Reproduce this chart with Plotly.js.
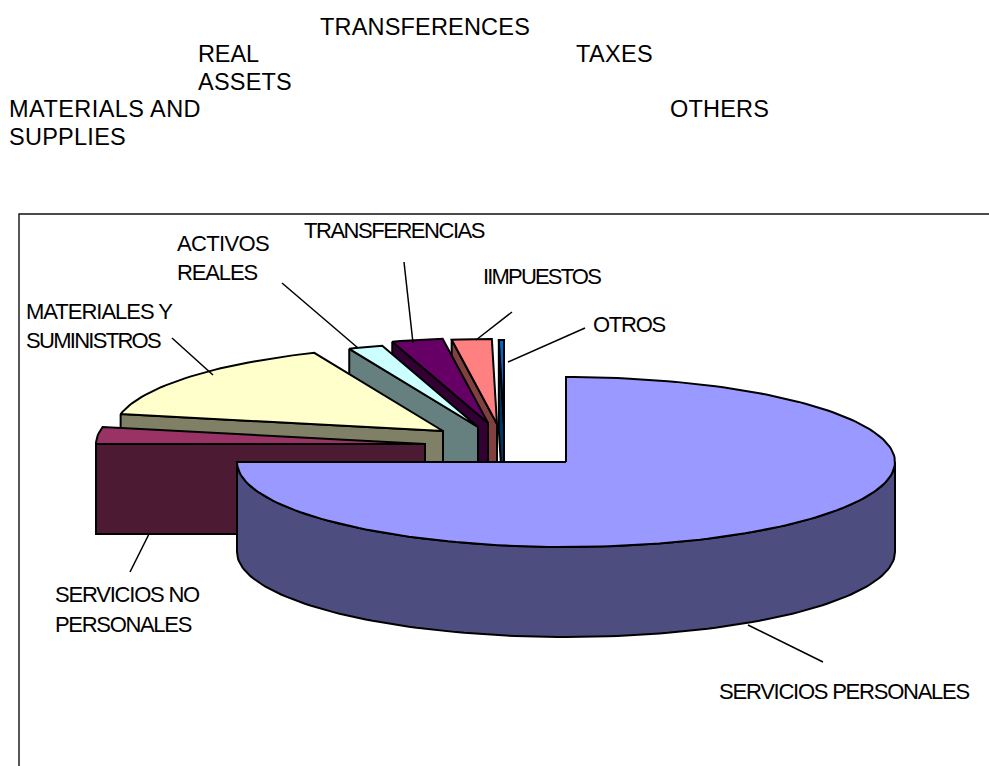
<!DOCTYPE html>
<html>
<head>
<meta charset="utf-8">
<script src="https://cdn.plot.ly/plotly-3.0.1.min.js"></script>
<style>html,body{margin:0;padding:0;background:#fff;overflow:hidden}</style>
</head>
<body>
<div id="chart" style="width:989px;height:766px"></div>
<script>
// ---- data (percent share of each budget item)
const categories = ["SERVICIOS PERSONALES","SERVICIOS NO PERSONALES","MATERIALES Y SUMINISTROS","ACTIVOS REALES","TRANSFERENCIAS","IMPUESTOS","OTROS"];
const values = [75.0, 3.2, 15.4, 1.7, 2.5, 1.95, 0.25];
const topColors = ["#9999FF","#993366","#FFFFCC","#CCFFFF","#660066","#FF8080","#0066CC"];
const wallColors = ["#4D4D80","#4D1A33","#808066","#668080","#330033","#804040","#003366"];

// ---- drawing geometry of the tilted, exploded pie
const centre = [566, 462];
const radiusX = 329, radiusY = 85, depth = 90;
const explodeX = [0, -141, -123, -88, -78, -69, -62];
const explodeY = [0, -18, -31, -35, -39, -38, -37];
const drawOrder = [6, 5, 4, 3, 2, 1, 0];

const deg = Math.PI / 180;
function rim(theta, cx, cy) {
  return [cx + radiusX * Math.sin(theta * deg), cy - radiusY * Math.cos(theta * deg)];
}
function arc(a, b, cx, cy) {
  const n = Math.max(2, Math.ceil(Math.abs(b - a) / 1.5));
  const pts = [];
  for (let i = 0; i <= n; i++) pts.push(rim(a + (b - a) * i / n, cx, cy));
  return pts;
}
function poly(pts, fill) {
  const xs = pts.map(p => p[0]).concat(pts[0][0]);
  const ys = pts.map(p => p[1]).concat(pts[0][1]);
  return {type:"scatter", mode:"lines", x:xs, y:ys, fill:"toself", fillcolor:fill,
          line:{color:"#000", width:2, shape:"linear"}, hoverinfo:"skip", showlegend:false};
}

const total = values.reduce((a, b) => a + b, 0);
const startAngle = [];
let running = 0;
values.forEach(v => { startAngle.push(running / total * 360); running += v; });

const traces = [];
drawOrder.forEach(i => {
  const a = startAngle[i], b = a + values[i] / total * 360;
  const cx = centre[0] + explodeX[i], cy = centre[1] + explodeY[i];
  if (i === 0) {
    const upper = arc(90, 270, cx, cy);
    const lower = arc(270, 90, cx, cy + depth);
    traces.push(poly(upper.concat(lower), wallColors[i]));
  } else {
    const p = rim(a, cx, cy);
    traces.push(poly([p, [cx, cy], [cx, cy + depth], [p[0], p[1] + depth]], wallColors[i]));
  }
  traces.push(poly([[cx, cy]].concat(arc(a, b, cx, cy)), topColors[i]));
});

// ---- text: [label, left, middle, rendered width]
const tightLabels = [
  ["ACTIVOS",177,243,92],["REALES",177,272,80],["TRANSFERENCIAS",304,230,180],["IIMPUESTOS",483,276,117],
  ["MATERIALES Y",26,311,146],["SUMINISTROS",26,340,134],["OTROS",593,324,72],
  ["SERVICIOS NO",55,594,144],["PERSONALES",55,624,136],["SERVICIOS PERSONALES",719,691,250]
];
const outerLabels = [
  ["TRANSFERENCES",320,27,210],["REAL",198,54,61],["ASSETS",198,82,94],["MATERIALS AND",9,109,192],
  ["SUPPLIES",9,137,117],["TAXES",576,54,77],["OTHERS",670,109,99]
];
const leaders = [
  [282,283,358,348],[404,262,413,343],[512,312,476,340],[172,338,213,375],
  [585,328,508,362],[149,534,130,572],[748,625,823,662]
];
const font = "Liberation Sans, Arial, sans-serif";
function ann(l, size) {
  return {text:l[0], x:l[1], y:l[2], xref:"x", yref:"y", xanchor:"left", yanchor:"middle", align:"left",
          showarrow:false, borderpad:0, borderwidth:0, font:{family:font, size:size, color:"#000"}};
}
const annotations = tightLabels.map(l => ann(l, 22)).concat(outerLabels.map(l => ann(l, 23.5)));
const allLabels = tightLabels.concat(outerLabels);

const shapes = [{type:"rect", xref:"x", yref:"y", x0:19, y0:214, x1:1010, y1:800, layer:"below",
                 line:{color:"#111", width:1.4}, fillcolor:"rgba(0,0,0,0)"}]
  .concat(leaders.map(s => ({type:"line", xref:"x", yref:"y", x0:s[0], y0:s[1], x1:s[2], y1:s[3],
                             layer:"above", line:{color:"#000", width:1.5}})));

const hidden = {visible:false, fixedrange:true, showgrid:false, zeroline:false};
const layout = {
  width:989, height:766, margin:{l:0,r:0,t:0,b:0}, showlegend:false,
  paper_bgcolor:"#fff", plot_bgcolor:"#fff",
  xaxis:Object.assign({range:[0,989]}, hidden),
  yaxis:Object.assign({range:[766,0]}, hidden),
  annotations, shapes
};
Plotly.newPlot("chart", traces, layout, {displayModeBar:false, staticPlot:true}).then(() => {
  document.querySelectorAll(".annotation").forEach(g => {
    const l = allLabels[+g.getAttribute("data-index")];
    const t = g.querySelector("text");
    if (l && t) {
      const w = t.getComputedTextLength();
      t.style.letterSpacing = ((l[3] - w) / l[0].length).toFixed(3) + "px";
    }
  });
});
</script>
</body>
</html>
